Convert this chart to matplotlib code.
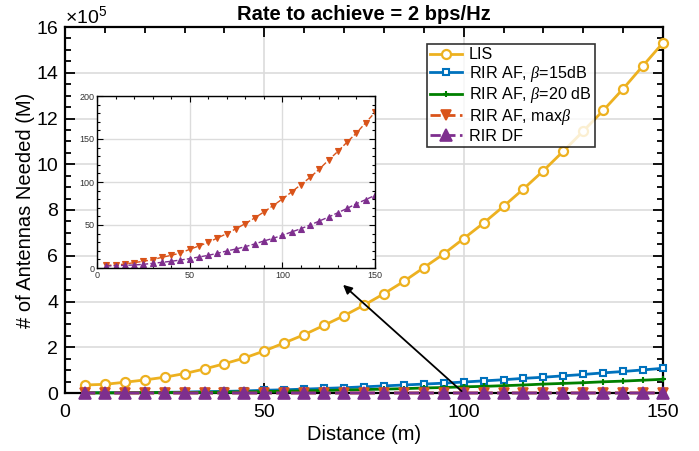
import numpy as np
import matplotlib
matplotlib.use("Agg")
import matplotlib.pyplot as plt
from matplotlib.ticker import MultipleLocator

plt.rcParams['font.family'] = ['Liberation Sans', 'DejaVu Sans']
plt.rcParams['mathtext.fontset'] = 'custom'
plt.rcParams['mathtext.it'] = 'Liberation Serif:italic'
plt.rcParams['mathtext.rm'] = 'Liberation Sans'

# Distance (m)
distance = [5, 10, 15, 20, 25, 30, 35, 40, 45, 50, 55, 60, 65, 70, 75,
            80, 85, 90, 95, 100, 105, 110, 115, 120, 125, 130, 135, 140, 145, 150]

# Main-plot series, in units of 1e5 antennas
lis = [0.35, 0.38, 0.47, 0.57, 0.69, 0.85, 1.05, 1.28, 1.53, 1.84, 2.19, 2.55, 2.96, 3.38, 3.84,
       4.34, 4.88, 5.48, 6.08, 6.75, 7.43, 8.16, 8.92, 9.72, 10.57, 11.45, 12.35, 13.30, 14.31, 15.31]
rir_af_15 = [0.01, 0.01, 0.015, 0.02, 0.03, 0.04, 0.06, 0.07, 0.09, 0.12, 0.14, 0.17, 0.20, 0.23, 0.27,
             0.31, 0.35, 0.39, 0.43, 0.48, 0.53, 0.58, 0.64, 0.69, 0.75, 0.81, 0.88, 0.94, 1.01, 1.08]
rir_af_20 = [0.005, 0.006, 0.01, 0.015, 0.02, 0.025, 0.03, 0.04, 0.05, 0.065, 0.08, 0.095, 0.11, 0.13, 0.15,
             0.17, 0.19, 0.22, 0.24, 0.27, 0.29, 0.32, 0.35, 0.39, 0.42, 0.45, 0.49, 0.52, 0.56, 0.60]

# Inset series, actual number of antennas
rir_af_max = [3.0, 3.5, 4.6, 6.2, 7.8, 9.7, 12.4, 14.7, 17.4, 21.7, 25.6, 29.8, 34.9, 39.9, 45.7,
              51.6, 58.1, 65.1, 72.5, 80.2, 88.4, 96.9, 105.4, 115.1, 125.6, 135.7, 146.5, 157.0, 169.0, 181.0]
rir_df = [2.3, 2.7, 3.1, 3.5, 4.3, 5.4, 6.6, 7.8, 9.3, 10.9, 12.8, 14.7, 17.1, 19.8, 22.1,
          24.8, 27.9, 31.4, 34.5, 38.0, 41.9, 45.7, 50.0, 54.7, 59.3, 64.3, 69.4, 74.8, 79.5, 84.5]

labels = ['LIS', r'RIR AF, $\beta$=15dB', r'RIR AF, $\beta$=20 dB', r'RIR AF, max$\beta$', 'RIR DF']
c_lis, c_15, c_20, c_max, c_df = '#EDB120', '#0072BD', '#008000', '#D95319', '#7E2F8E'

W, H = 699, 451
fig = plt.figure(figsize=(W / 100, H / 100), dpi=100)
ax = fig.add_axes([65 / W, 1 - 393 / H, (663 - 65) / W, (393 - 27) / H])

d = np.array(distance)
ax.plot(d, lis, '-o', color=c_lis, lw=2, ms=6.5, mfc='white', mew=1.6, label=labels[0], clip_on=False, zorder=3)
ax.plot(d, rir_af_15, '-s', color=c_15, lw=2, ms=5, mfc='white', mew=1.5, label=labels[1], clip_on=False, zorder=3)
ax.plot(d, rir_af_20, '-+', color=c_20, lw=2, ms=5, mew=1.5, label=labels[2], clip_on=False, zorder=3)
ax.plot(d, np.array(rir_af_max) / 1e5, '--v', color=c_max, lw=2, ms=7, mfc=c_max, mew=1.2,
        label=labels[3], clip_on=False, zorder=3)
ax.plot(d, np.array(rir_df) / 1e5, '--^', color=c_df, lw=2, ms=8, mfc=c_df, mew=1.2,
        label=labels[4], clip_on=False, zorder=3)

ax.set_xlim(0, 150)
ax.set_ylim(0, 16)
ax.xaxis.set_major_locator(MultipleLocator(50))
ax.xaxis.set_minor_locator(MultipleLocator(10))
ax.yaxis.set_major_locator(MultipleLocator(2))
ax.yaxis.set_minor_locator(MultipleLocator(0.5))
ax.tick_params(which='both', direction='in', top=True, right=True, width=1.3, labelsize=14)
ax.tick_params(which='major', length=7)
ax.tick_params(which='minor', length=4)
ax.tick_params(axis='x', which='major', pad=8)
ax.tick_params(axis='y', which='major', pad=5)
ax.grid(True, which='major', color='#dcdcdc', lw=1.2)
ax.set_axisbelow(True)
for s in ax.spines.values():
    s.set_linewidth(1.6)
    s.set_zorder(2.5)
ax.set_xlabel('Distance (m)', fontsize=14.5, labelpad=3)
ax.set_ylabel('# of Antennas Needed (M)', fontsize=14.5, labelpad=1)
ax.set_title('Rate to achieve = 2 bps/Hz', fontsize=14.5, fontweight='bold', pad=5)
ax.text(0.0, 1.0, r'$\times\mathregular{10^5}$', transform=ax.transAxes, fontsize=14,
        ha='left', va='bottom')

leg = ax.legend(loc='upper left', bbox_to_anchor=((427 - 65) / 598, 1 - (44 - 27) / 366),
                fontsize=11.6, frameon=True, fancybox=False, edgecolor='black',
                borderpad=0.2, labelspacing=0.1, handlelength=2.0, handletextpad=0.4,
                borderaxespad=0)
leg.get_frame().set_linewidth(1.2)
leg.set_zorder(5)

# arrow
ax.annotate('', xy=((341 - 65) / 598, (393 - 283) / 366), xycoords='axes fraction',
            xytext=(100, 0), textcoords='data',
            arrowprops=dict(arrowstyle='-|>', color='black', lw=1.3, mutation_scale=13))

# inset
axi = fig.add_axes([97 / W, 1 - 268 / H, (375 - 97) / W, (268 - 96) / H])
axi.plot(d, rir_af_max, '--v', color=c_max, lw=1, ms=3.8, mfc=c_max, mew=0.8)
axi.plot(d, rir_df, '--^', color=c_df, lw=1, ms=3.8, mfc=c_df, mew=0.8)
axi.set_xlim(0, 150)
axi.set_ylim(0, 200)
axi.xaxis.set_major_locator(MultipleLocator(50))
axi.xaxis.set_minor_locator(MultipleLocator(10))
axi.yaxis.set_major_locator(MultipleLocator(50))
axi.yaxis.set_minor_locator(MultipleLocator(10))
axi.tick_params(which='both', direction='in', top=True, right=True, width=0.8,
                labelsize=6.5, labelcolor='#333333', pad=2)
axi.tick_params(which='major', length=4)
axi.tick_params(which='minor', length=2.5)
axi.grid(True, which='major', color='#dcdcdc', lw=1)
axi.set_axisbelow(True)
for s in axi.spines.values():
    s.set_linewidth(1.0)

fig.savefig('out.png', dpi=100)
